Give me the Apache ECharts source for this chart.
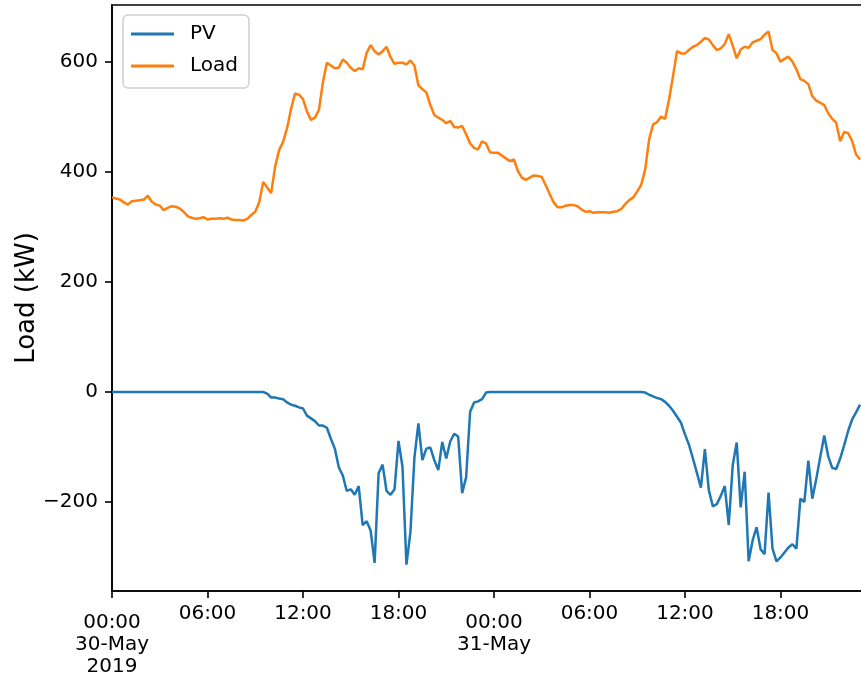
<!DOCTYPE html>
<html>
<head>
<meta charset="utf-8">
<title>PV / Load</title>
<script src="https://cdn.jsdelivr.net/npm/echarts@6/dist/echarts.min.js"></script>
<style>
html, body { margin: 0; padding: 0; background: #fff; }
#chart { width: 861px; height: 676px; }
</style>
</head>
<body>
<div id="chart"></div>
<script>
// 15 minute readings from 30-May-2019 00:00
var stepHours = 0.25;
var dayLabels = ['30-May\n2019', '31-May'];
var xTicks = [0, 6, 12, 18, 24, 30, 36, 42];
var hourTicks = [6, 12, 18, 30, 36, 42];
var dayTicks = [0, 24];
var yTicks = [-200, 0, 200, 400, 600];

var pv = [
	0, 0, 0, 0, 0, 0, 0, 0, 0, 0,
	0, 0, 0, 0, 0, 0, 0, 0, 0, 0,
	0, 0, 0, 0, 0, 0, 0, 0, 0, 0,
	0, 0, 0, 0, 0, 0, 0, 0, 0, -3,
	-10, -10, -12, -13, -19, -23, -25, -28, -30, -43,
	-48, -53, -61, -61, -65, -85, -103, -137, -152, -180,
	-177, -187, -171, -242, -235, -252, -311, -148, -132, -180,
	-187, -177, -89, -136, -314, -255, -120, -57, -124, -103,
	-101, -124, -142, -91, -121, -90, -76, -81, -184, -155,
	-36, -19, -17, -13, -1, 0, 0, 0, 0, 0,
	0, 0, 0, 0, 0, 0, 0, 0, 0, 0,
	0, 0, 0, 0, 0, 0, 0, 0, 0, 0,
	0, 0, 0, 0, 0, 0, 0, 0, 0, 0,
	0, 0, 0, 0, -1, -5, -8, -11, -13, -18,
	-25, -34, -45, -56, -77, -96, -121, -147, -174, -104,
	-179, -208, -204, -189, -171, -242, -133, -92, -210, -145,
	-308, -270, -246, -286, -295, -183, -285, -308, -301, -292,
	-283, -277, -285, -194, -200, -125, -194, -158, -118, -79,
	-117, -138, -140, -121, -97, -71, -50, -37, -23
];

var load = [
	354, 352, 350, 345, 341, 347, 348, 349, 350, 357,
	346, 341, 339, 331, 335, 338, 337, 334, 328, 320,
	317, 315, 316, 318, 314, 315, 315, 316, 315, 317,
	314, 313, 313, 312, 315, 322, 328, 345, 382, 372,
	362, 410, 440, 455, 480, 515, 543, 541, 533, 510,
	495, 499, 513, 563, 599, 594, 589, 590, 605, 599,
	590, 584, 589, 587, 617, 631, 620, 614, 620, 628,
	609, 597, 599, 599, 596, 603, 594, 558, 551, 545,
	522, 504, 499, 495, 489, 493, 482, 481, 484, 469,
	452, 444, 441, 456, 452, 436, 435, 435, 430, 425,
	420, 423, 402, 390, 386, 390, 394, 393, 391, 376,
	360, 345, 336, 336, 339, 340, 340, 338, 332, 328,
	329, 326, 327, 327, 327, 326, 328, 329, 333, 342,
	349, 354, 365, 377, 405, 460, 487, 491, 501, 497,
	532, 575, 620, 616, 616, 622, 628, 631, 637, 644,
	641, 631, 622, 625, 633, 651, 630, 607, 623, 628,
	626, 636, 639, 642, 650, 656, 622, 616, 601, 606,
	610, 601, 587, 569, 566, 560, 538, 530, 526, 522,
	507, 497, 490, 456, 473, 471, 457, 432, 423
];

var font = 'DejaVu Sans';

function toPairs(arr) {
	var out = [];
	for(var i = 0; i < arr.length; i++) {
		out.push([i * stepHours, arr[i]]);
	}
	return out;
}

function pad2(n) {
	return n < 10 ? '0' + n : '' + n;
}

function xLabel(v) {
	var h = v % 24;
	var s = pad2(h) + ':00';
	if(h === 0) {
		s += '\n' + dayLabels[v / 24];
	}
	return s;
}

function yLabel(v) {
	return v < 0 ? '\u2212' + Math.abs(v) : '' + v;
}

var lineAxis = { show: true, onZero: false, lineStyle: { color: '#000', width: 1.6 } };
var tickStyle = { color: '#000', width: 1.6 };

var chart = echarts.init(document.getElementById('chart'));
chart.setOption({
	animation: false,
	backgroundColor: '#fff',
	grid: {
		left: 112,
		right: -11,
		top: 5,
		bottom: 85,
		show: true,
		borderColor: '#000',
		borderWidth: 1.6,
		outerBoundsMode: 'none'
	},
	legend: {
		data: ['PV', 'Load'],
		orient: 'vertical',
		left: 123,
		top: 15,
		icon: 'rect',
		itemWidth: 43,
		itemHeight: 3,
		itemGap: 8,
		padding: [7, 11, 10, 8],
		borderColor: '#d0d0d0',
		borderWidth: 1.5,
		borderRadius: 5,
		backgroundColor: 'rgba(255,255,255,0.8)',
		textStyle: { fontFamily: font, fontSize: 20, color: '#000', lineHeight: 24, padding: [0, 0, 0, 11] }
	},
	xAxis: [{
		// hour ticks
		type: 'value',
		min: 0,
		max: 47.75,
		axisLine: lineAxis,
		axisTick: { show: true, customValues: xTicks, length: 7, lineStyle: tickStyle },
		axisLabel: { customValues: hourTicks, formatter: xLabel, fontFamily: font, fontSize: 20, color: '#000', margin: 12, lineHeight: 22 },
		splitLine: { show: false }
	}, {
		// day boundary labels, sit a bit lower
		type: 'value',
		position: 'bottom',
		min: 0,
		max: 47.75,
		axisLine: { show: false, onZero: false },
		axisTick: { show: false },
		axisLabel: { customValues: dayTicks, formatter: xLabel, fontFamily: font, fontSize: 20, color: '#000', margin: 21, lineHeight: 22 },
		splitLine: { show: false }
	}],
	yAxis: {
		type: 'value',
		min: -362,
		max: 704,
		name: 'Load (kW)',
		nameLocation: 'middle',
		nameGap: 72,
		nameMoveOverlap: false,
		nameTextStyle: { fontFamily: font, fontSize: 26, color: '#000' },
		axisLine: lineAxis,
		axisTick: { show: true, customValues: yTicks, length: 7, lineStyle: tickStyle },
		axisLabel: { customValues: yTicks, formatter: yLabel, fontFamily: font, fontSize: 20, color: '#000', margin: 14 },
		splitLine: { show: false }
	},
	series: [{
		name: 'PV',
		type: 'line',
		data: toPairs(pv),
		showSymbol: false,
		symbol: 'none',
		color: '#1f77b4',
		lineStyle: { color: '#1f77b4', width: 2.5 }
	}, {
		name: 'Load',
		type: 'line',
		data: toPairs(load),
		showSymbol: false,
		symbol: 'none',
		color: '#ff7f0e',
		lineStyle: { color: '#ff7f0e', width: 2.5 }
	}]
});
</script>
</body>
</html>
